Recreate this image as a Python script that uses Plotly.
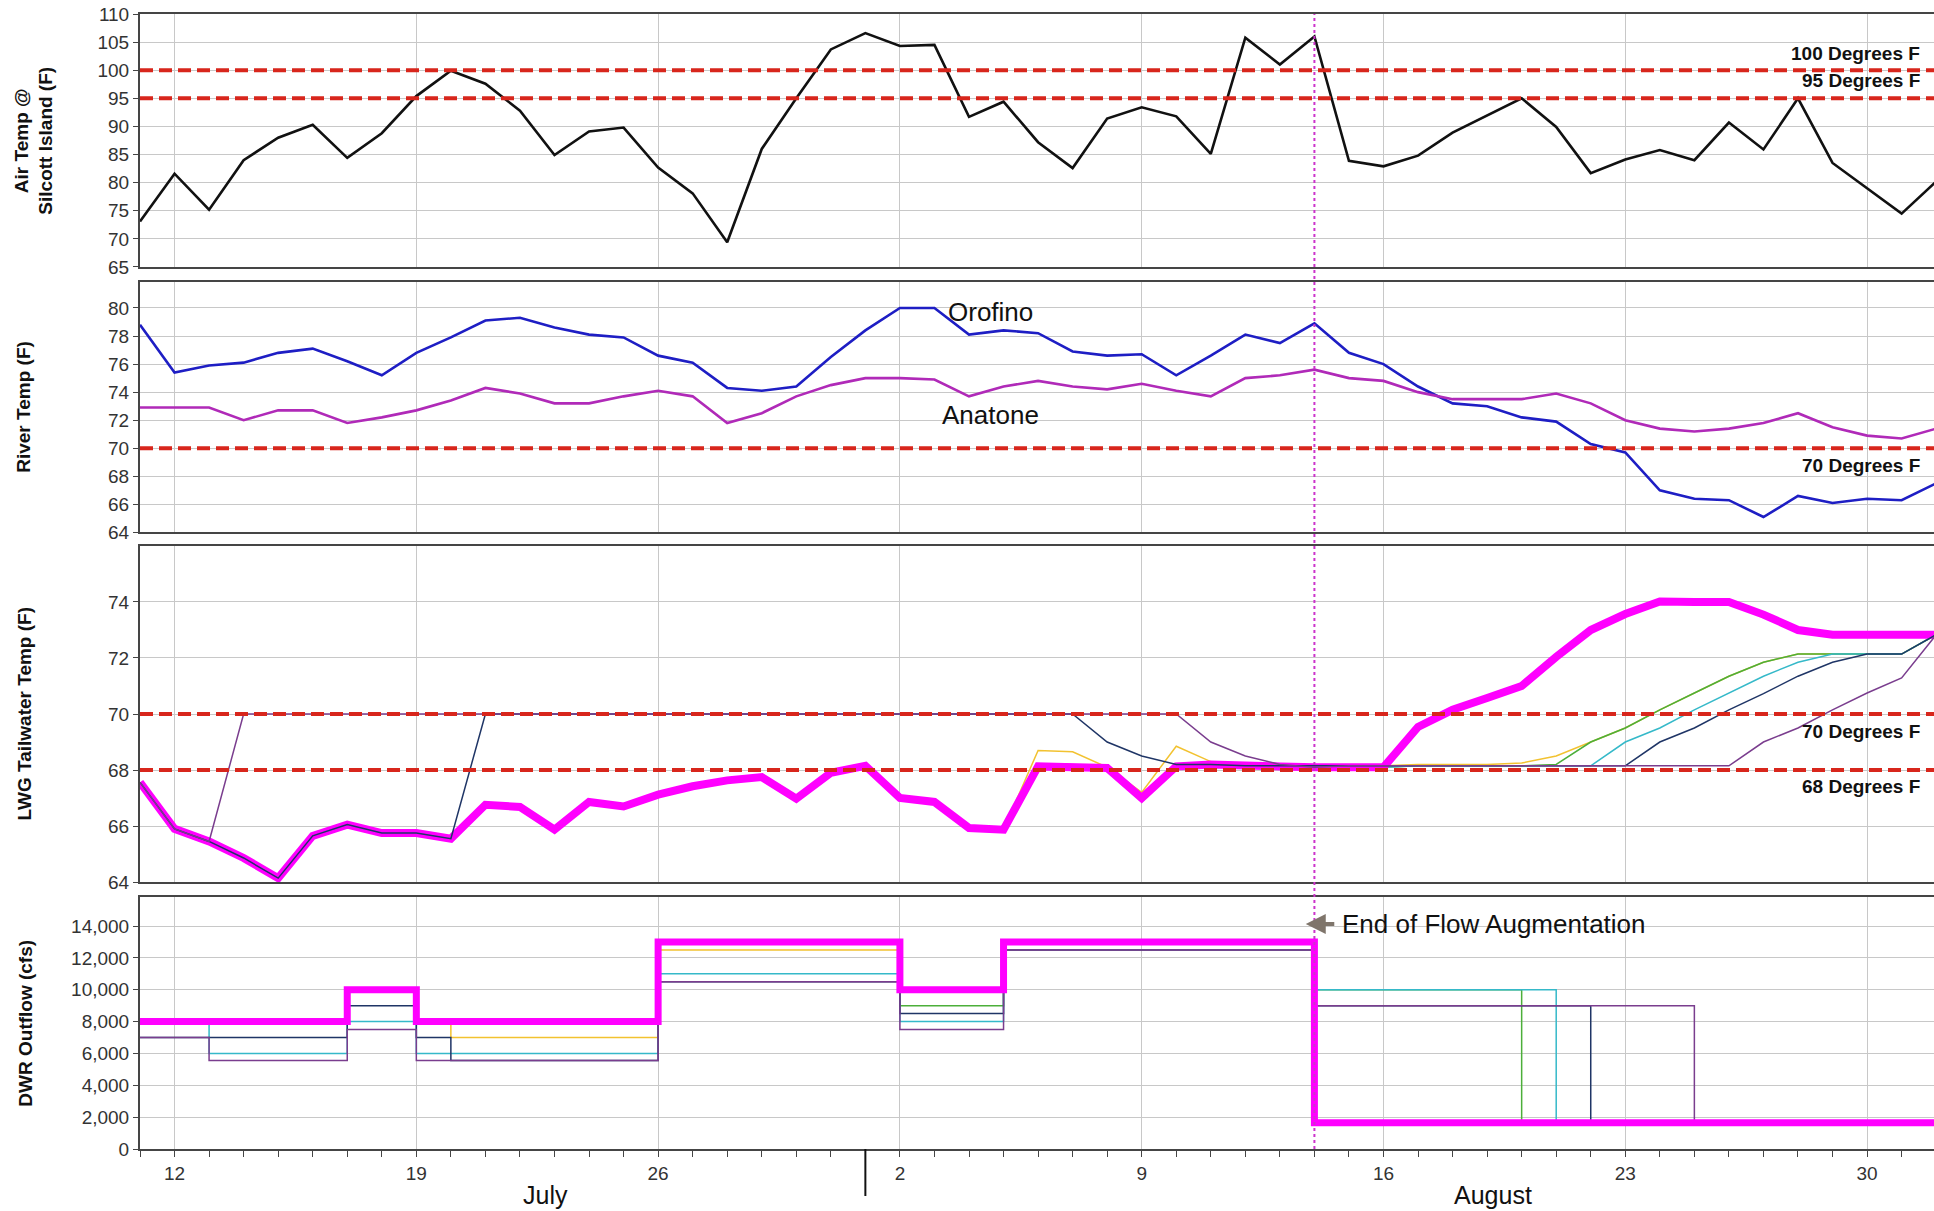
import plotly.graph_objects as go
import pandas as pd

# ---------------- data ----------------
dates = pd.date_range("2015-07-11", "2015-09-01", freq="D").strftime("%Y-%m-%d").tolist()

air_temp = [73.1, 81.6, 75.2, 84.0, 88.0, 90.3, 84.4, 88.8, 95.4, 99.9, 97.6, 92.8, 84.9, 89.1, 89.8,
            82.7, 78.1, 69.4, 86.0, 95.0, 103.7, 106.6, 104.3, 104.5, 91.7, 94.4, 87.2, 82.6, 91.4,
            93.4, 91.8, 85.1, 105.8, 101.0, 106.0, 83.9, 82.9, 84.8, 88.9, 92.0, 95.0, 89.9, 81.7,
            84.1, 85.8, 84.0, 90.7, 85.9, 95.0, 83.5, 79.0, 74.5, 80.2]

orofino = [78.8, 75.4, 75.9, 76.1, 76.8, 77.1, 76.2, 75.2, 76.8, 77.9, 79.1, 79.3, 78.6, 78.1, 77.9,
           76.6, 76.1, 74.3, 74.1, 74.4, 76.5, 78.4, 80.0, 80.0, 78.1, 78.4, 78.2, 76.9, 76.6,
           76.7, 75.2, 76.6, 78.1, 77.5, 78.9, 76.8, 76.0, 74.4, 73.2, 73.0, 72.2, 71.9, 70.3,
           69.7, 67.0, 66.4, 66.3, 65.1, 66.6, 66.1, 66.4, 66.3, 67.5]

anatone = [72.9, 72.9, 72.9, 72.0, 72.7, 72.7, 71.8, 72.2, 72.7, 73.4, 74.3, 73.9, 73.2, 73.2, 73.7,
           74.1, 73.7, 71.8, 72.5, 73.7, 74.5, 75.0, 75.0, 74.9, 73.7, 74.4, 74.8, 74.4, 74.2,
           74.6, 74.1, 73.7, 75.0, 75.2, 75.6, 75.0, 74.8, 74.0, 73.5, 73.5, 73.5, 73.9, 73.2,
           72.0, 71.4, 71.2, 71.4, 71.8, 72.5, 71.5, 70.9, 70.7, 71.4]

lwg_plan = [67.56, 65.9, 65.45, 64.86, 64.14, 65.65, 66.05, 65.75, 65.75, 65.55, 66.76, 66.68, 65.87,
            66.86, 66.7, 67.12, 67.42, 67.63, 67.75, 66.98, 67.9, 68.15, 67.0, 66.86, 65.93, 65.87,
            68.13, 68.13, 68.07, 67.0, 68.13, 68.2, 68.2, 68.13, 68.1, 68.1, 68.1, 69.54, 70.15,
            70.57, 71.0, 72.04, 73.0, 73.57, 74.02, 74.0, 74.0, 73.55, 73.0, 72.83, 72.83, 72.83, 72.83]

lwg_yellow = [67.56, 65.9, 65.45, 64.86, 64.14, 65.65, 66.05, 65.75, 65.75, 65.55, 66.76, 66.68, 65.87,
              66.86, 66.7, 67.12, 67.42, 67.63, 67.75, 66.98, 67.9, 68.15, 67.0, 66.86, 65.93, 65.87,
              68.7, 68.65, 68.1, 67.2, 68.85, 68.3, 68.2, 68.15, 68.15, 68.15, 68.15, 68.2, 68.2,
              68.2, 68.25, 68.5, 69.0, 69.5, 70.15, 70.75, 71.35, 71.85, 72.14, 72.14, 72.14, 72.14, 72.83]

lwg_green = [67.56, 65.9, 65.45, 64.86, 64.14, 65.65, 66.05, 65.75, 65.75, 65.55, 66.76, 66.68, 65.87,
             66.86, 66.7, 67.12, 67.42, 67.63, 67.75, 66.98, 67.9, 68.15, 67.0, 66.86, 65.93, 65.87,
             68.13, 68.13, 68.07, 67.0, 68.13, 68.2, 68.2, 68.13, 68.1, 68.1, 68.1, 68.15, 68.15,
             68.15, 68.15, 68.2, 69.0, 69.5, 70.15, 70.75, 71.35, 71.85, 72.14, 72.14, 72.14, 72.14, 72.83]

lwg_teal = [67.56, 65.9, 65.45, 64.86, 64.14, 65.65, 66.05, 65.75, 65.75, 65.55, 66.76, 66.68, 65.87,
            66.86, 66.7, 67.12, 67.42, 67.63, 67.75, 66.98, 67.9, 68.15, 67.0, 66.86, 65.93, 65.87,
            68.13, 68.13, 68.07, 67.0, 68.13, 68.2, 68.2, 68.13, 68.1, 68.1, 68.1, 68.15, 68.15,
            68.15, 68.15, 68.15, 68.15, 69.0, 69.5, 70.15, 70.75, 71.35, 71.85, 72.14, 72.14, 72.14, 72.83]

lwg_navy = [67.56, 65.9, 65.45, 64.86, 64.14, 65.65, 66.05, 65.75, 65.75, 65.55, 70.0, 70.0, 70.0,
            70.0, 70.0, 70.0, 70.0, 70.0, 70.0, 70.0, 70.0, 70.0, 70.0, 70.0, 70.0, 70.0,
            70.0, 70.0, 69.0, 68.5, 68.2, 68.2, 68.15, 68.15, 68.15, 68.15, 68.15, 68.15, 68.15,
            68.15, 68.15, 68.15, 68.15, 68.15, 69.0, 69.5, 70.15, 70.73, 71.35, 71.85, 72.14, 72.14, 72.83]

lwg_purple = [67.56, 65.9, 65.45, 70.0, 70.0, 70.0, 70.0, 70.0, 70.0, 70.0, 70.0, 70.0, 70.0,
              70.0, 70.0, 70.0, 70.0, 70.0, 70.0, 70.0, 70.0, 70.0, 70.0, 70.0, 70.0, 70.0,
              70.0, 70.0, 70.0, 70.0, 70.0, 69.0, 68.5, 68.2, 68.1, 68.15, 68.15, 68.15, 68.15,
              68.15, 68.15, 68.15, 68.15, 68.15, 68.15, 68.15, 68.15, 69.0, 69.5, 70.15, 70.75, 71.29, 72.83]

flow_dates = ["2015-07-11", "2015-07-13", "2015-07-17", "2015-07-19", "2015-07-20", "2015-07-26",
              "2015-08-02", "2015-08-05", "2015-08-14", "2015-08-20", "2015-08-21", "2015-08-22",
              "2015-08-25", "2015-09-01"]
flow_plan = [8000, 8000, 10000, 8000, 8000, 13000, 10000, 13000, 1650, 1650, 1650, 1650, 1650, 1650]
flow_yellow = [8000, 8000, 10000, 8000, 7000, 12500, 10000, 13000, 1650, 1650, 1650, 1650, 1650, 1650]
flow_green = [8000, 8000, 10000, 8000, 8000, 13000, 9000, 13000, 10000, 1650, 1650, 1650, 1650, 1650]
flow_teal = [8000, 6000, 8000, 6000, 6000, 11000, 8000, 13000, 10000, 10000, 1650, 1650, 1650, 1650]
flow_navy = [7000, 7000, 9000, 7000, 5550, 10500, 8500, 12500, 9000, 9000, 9000, 1650, 1650, 1650]
flow_purple = [7000, 5550, 7500, 5550, 5550, 10500, 7500, 12500, 9000, 9000, 9000, 9000, 1650, 1650]

week_ticks = ["2015-07-12", "2015-07-19", "2015-07-26", "2015-08-02", "2015-08-09",
              "2015-08-16", "2015-08-23", "2015-08-30"]
week_labels = ["12", "19", "26", "2", "9", "16", "23", "30"]

# ---------------- style ----------------
FONT = "Arial, Liberation Sans, sans-serif"
X_RANGE = ["2015-07-11 00:00", "2015-08-31 22:30"]
GRID = "#c8c8c8"
AXLINE = "#454545"
TICKC = "#333333"
RED = "#d8261c"
MAG = "#ff00ff"
C_YEL = "#f2c230"
C_GRN = "#4caf3a"
C_TEAL = "#35b9c9"
C_NAVY = "#1f3566"
C_PUR = "#7a3d8e"

domains = {1: [0.7771, 1.0], 2: [0.5432, 0.7639], 3: [0.2352, 0.5313], 4: [0.0, 0.2220]}
y_ranges = {1: [65, 110], 2: [64, 81.85], 3: [64, 76.0], 4: [0, 15820]}
y_ticks = {1: list(range(65, 111, 5)), 2: list(range(64, 81, 2)), 3: list(range(64, 75, 2)),
           4: list(range(0, 14001, 2000))}

fig = go.Figure()


def ax(n):
    return ("x" if n == 1 else f"x{n}"), ("y" if n == 1 else f"y{n}")


def line(n, x, y, color, width, shape="linear"):
    xa, ya = ax(n)
    fig.add_trace(go.Scatter(x=x, y=y, mode="lines", xaxis=xa, yaxis=ya,
                             line=dict(color=color, width=width, shape=shape),
                             showlegend=False, hoverinfo="skip"))


# panel 1
line(1, dates, air_temp, "#111111", 2.6)
# panel 2
line(2, dates, orofino, "#1e1ec4", 2.6)
line(2, dates, anatone, "#b02ab8", 2.6)
# panel 3
line(3, dates, lwg_yellow, C_YEL, 1.5)
line(3, dates, lwg_green, C_GRN, 1.5)
line(3, dates, lwg_teal, C_TEAL, 1.5)
line(3, dates, lwg_plan, MAG, 8)
line(3, dates, lwg_navy, C_NAVY, 1.5)
line(3, dates, lwg_purple, C_PUR, 1.5)
# panel 4
for vals, col in [(flow_yellow, C_YEL), (flow_green, C_GRN), (flow_teal, C_TEAL),
                  (flow_navy, C_NAVY), (flow_purple, C_PUR)]:
    line(4, flow_dates, vals, col, 1.5, "hv")
line(4, flow_dates, flow_plan, MAG, 7, "hv")

layout = dict(
    width=1934, height=1211,
    margin=dict(l=140, r=0, t=14, b=62),
    paper_bgcolor="white", plot_bgcolor="white",
    font=dict(family=FONT, color="#111111"),
    showlegend=False,
)

for n in range(1, 5):
    xkey = "xaxis" if n == 1 else f"xaxis{n}"
    ykey = "yaxis" if n == 1 else f"yaxis{n}"
    xa, ya = ax(n)
    xd = dict(type="date", range=X_RANGE, anchor=ya, domain=[0, 1],
              tickvals=week_ticks, ticktext=week_labels,
              showgrid=True, gridcolor=GRID, gridwidth=1,
              showline=True, mirror=True, linecolor=AXLINE, linewidth=2,
              zeroline=False, showticklabels=False, ticks="")
    if n != 1:
        xd["matches"] = "x"
    if n == 4:
        xd.update(showticklabels=True, ticks="outside", ticklen=6, tickcolor=AXLINE, tickwidth=1,
                  tickfont=dict(size=19, color=TICKC, family=FONT),
                  minor=dict(dtick=86400000, tick0="2015-07-11", ticks="outside", ticklen=6,
                             tickcolor=AXLINE, tickwidth=1, showgrid=False))
    layout[xkey] = xd
    yd = dict(domain=domains[n], range=y_ranges[n], anchor=xa, tickvals=y_ticks[n],
              showgrid=True, gridcolor=GRID, gridwidth=1,
              showline=True, mirror=False, linecolor=AXLINE, linewidth=2,
              ticks="outside", ticklen=5, tickcolor=AXLINE,
              tickfont=dict(size=19, color=TICKC, family=FONT), zeroline=False)
    if n == 4:
        yd["tickformat"] = ",d"
    layout[ykey] = yd

fig.update_layout(**layout)

# threshold lines
for n, yv in [(1, 100), (1, 95), (2, 70), (3, 70), (3, 68)]:
    xa, ya = ax(n)
    fig.add_shape(type="line", xref=f"{xa} domain", yref=ya, x0=0, x1=1, y0=yv, y1=yv,
                  line=dict(color=RED, width=4, dash="13px,6px"), layer="above")

# end of augmentation vertical dotted line
fig.add_shape(type="line", xref="x4", yref="paper", x0="2015-08-14", x1="2015-08-14", y0=0, y1=1,
              line=dict(color="#cc33cc", width=2, dash="dot"), layer="above")

# month separator
fig.add_shape(type="line", xref="x4", yref="paper", x0="2015-08-01", x1="2015-08-01",
              y0=-0.0414, y1=0, line=dict(color="#111111", width=2))

ann = []


def label_right(n, yv, text):
    xa, ya = ax(n)
    ann.append(dict(xref="paper", yref=ya, x=0.9933, y=yv, text=f"<b>{text}</b>",
                    xanchor="right", yanchor="middle", showarrow=False,
                    font=dict(size=19, color="#111111", family=FONT)))


label_right(1, 103.06, "100 Degrees F")
label_right(1, 98.26, "95 Degrees F")
label_right(2, 68.8, "70 Degrees F")
label_right(3, 69.38, "70 Degrees F")
label_right(3, 67.41, "68 Degrees F")

ann.append(dict(xref="x2", yref="y2", x="2015-08-04 15:00", y=79.7, text="Orofino",
                showarrow=False, xanchor="center", yanchor="middle",
                font=dict(size=26, color="#111111", family=FONT)))
ann.append(dict(xref="x2", yref="y2", x="2015-08-04 15:00", y=72.4, text="Anatone",
                showarrow=False, xanchor="center", yanchor="middle",
                font=dict(size=26, color="#111111", family=FONT)))

ann.append(dict(xref="x4", yref="y4", x="2015-08-14 17:30", y=14124, text="End of Flow Augmentation",
                showarrow=False, xanchor="left", yanchor="middle",
                font=dict(size=26, color="#111111", family=FONT)))
ann.append(dict(xref="x4", yref="y4", x="2015-08-13 18:00", y=14124, text="",
                showarrow=True, ax=30, ay=0, arrowhead=2, arrowsize=1, arrowwidth=4,
                arrowcolor="#7f756b"))

# month labels
ann.append(dict(xref="x4", yref="paper", x="2015-07-22 18:00", y=-0.0405, text="July",
                showarrow=False, xanchor="center", yanchor="middle",
                font=dict(size=25, color="#111111", family=FONT)))
ann.append(dict(xref="x4", yref="paper", x="2015-08-19 04:00", y=-0.0405, text="August",
                showarrow=False, xanchor="center", yanchor="middle",
                font=dict(size=25, color="#111111", family=FONT)))

# axis titles
titles = [(1, -0.0590, "Air Temp @<br>Silcott Island (F)"), (2, -0.0649, "River Temp (F)"),
          (3, -0.0649, "LWG Tailwater Temp (F)"), (4, -0.0643, "DWR Outflow (cfs)")]
for n, xp, t in titles:
    d = domains[n]
    ann.append(dict(xref="paper", yref="paper", x=xp, y=(d[0] + d[1]) / 2, text=f"<b>{t}</b>",
                    textangle=-90, showarrow=False, xanchor="center", yanchor="middle",
                    font=dict(size=19, color="#111111", family=FONT)))

fig.update_layout(annotations=ann)
fig.write_html("out.html")
